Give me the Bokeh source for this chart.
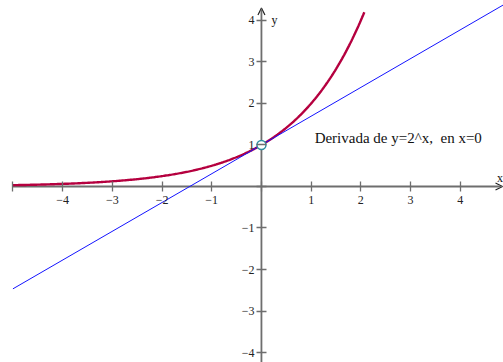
import numpy as np
from bokeh.plotting import figure
from bokeh.models import FixedTicker, Arrow, OpenHead, Label
from bokeh.embed import file_html
from bokeh.resources import INLINE

# Function y = base^x and its tangent at x0
base = 2.0
x0 = 0.0
curve_x_min, curve_x_max = -5.0, 2.07
tangent_x_min, tangent_x_max = -5.0, 5.0

tick_values = [-5, -4, -3, -2, -1, 0, 1, 2, 3, 4]
y_tick_values = [-4, -3, -2, -1, 0, 1, 2, 3, 4]
caption = "Derivada de y=2^x,\u00a0 en x=0"

x_lo, x_hi = -5.25, 4.87
y_lo, y_hi = -4.24, 4.48

xs = np.linspace(curve_x_min, curve_x_max, 300)
ys = base ** xs
y0 = base ** x0
slope = np.log(base) * y0
tx = np.array([tangent_x_min, tangent_x_max])
ty = y0 + slope * (tx - x0)

p = figure(width=503, height=362, x_range=(x_lo, x_hi), y_range=(y_lo, y_hi),
           output_backend="svg", toolbar_location=None, min_border=0)
p.grid.visible = False
p.outline_line_color = None
p.background_fill_color = "white"

axis_gray = "#6e6e6e"
serif = "Liberation Serif"

for ax, ticks in ((p.xaxis, tick_values), (p.yaxis, y_tick_values)):
    ax.fixed_location = 0
    ax.ticker = FixedTicker(ticks=ticks)
    ax.minor_tick_line_color = None
    ax.axis_line_color = None
    ax.major_tick_line_color = axis_gray
    ax.major_tick_line_width = 1.3
    ax.major_tick_in = 5
    ax.major_tick_out = 5
    ax.major_label_text_font = serif
    ax.major_label_text_font_size = "12px"
    ax.major_label_text_color = "#222222"

p.xaxis.major_label_standoff = 5
p.yaxis.major_label_standoff = 2

p.xaxis.major_label_overrides = {t: ("" if t in (0, -5) else str(t).replace("-", "\u2212")) for t in tick_values}
p.yaxis.major_label_overrides = {t: ("" if t == 0 else str(t).replace("-", "\u2212")) for t in y_tick_values}

# Axis lines with arrow heads, drawn beneath the data
p.add_layout(Arrow(end=OpenHead(size=7, line_color="#222222", line_width=1.2),
                   x_start=tangent_x_min, y_start=0, x_end=x_hi - 0.02, y_end=0,
                   line_color=axis_gray, line_width=1.8, level="underlay"))
p.add_layout(Arrow(end=OpenHead(size=7, line_color="#222222", line_width=1.2),
                   x_start=0, y_start=y_lo, x_end=0, y_end=4.3,
                   line_color=axis_gray, line_width=1.8, level="underlay"))

# Curve and tangent line
p.line(xs, ys, line_color="#b5003f", line_width=2.4)
p.line(tx, ty, line_color="#1414ff", line_width=1)
p.scatter([x0], [y0], size=9, marker="circle", fill_color="white",
          line_color="#2f8fa0", line_width=1.5)

p.add_layout(Label(x=1.07, y=1.16, text=caption, text_baseline="middle",
                   text_font=serif, text_font_size="15px", text_color="#111111"))
p.add_layout(Label(x=0.2, y=4.0, text="y", text_baseline="middle",
                   text_font=serif, text_font_size="12px", text_color="#111111"))
p.add_layout(Label(x=4.74, y=0.2, text="x", text_baseline="middle",
                   text_font=serif, text_font_size="12px", text_color="#111111"))

open("out.html", "w").write(file_html(p, INLINE))
